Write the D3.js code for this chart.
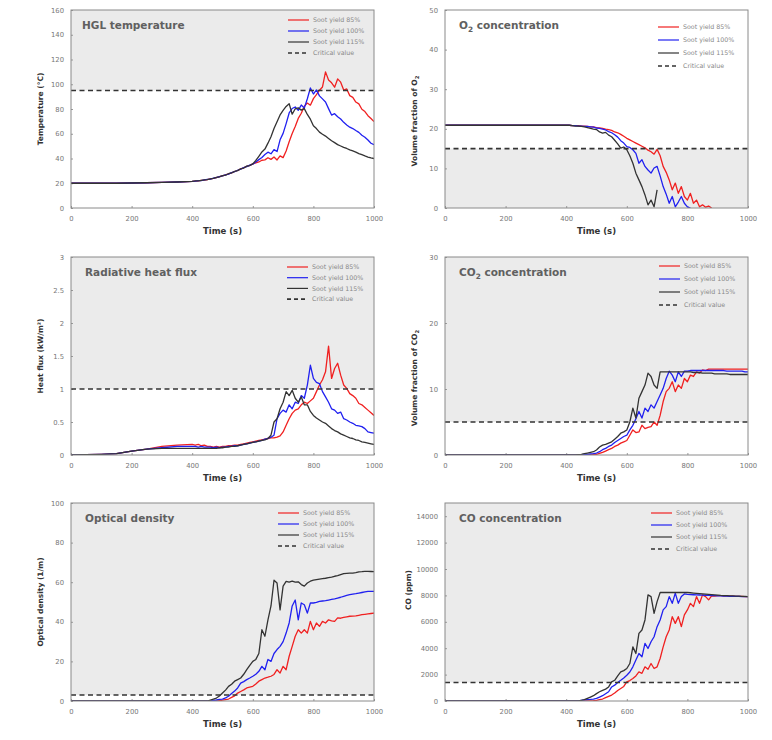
<!DOCTYPE html>
<html><head><meta charset="utf-8">
<script src="https://cdn.jsdelivr.net/npm/d3@7"></script>
<style>body{margin:0;background:#fff}svg{display:block}</style>
</head><body><svg id="c" width="772" height="740"></svg>
<script>
// ---------- DATA ----------
const time = [0,50,100,150,200,250,300,350,400,
 410,420,430,440,450,460,470,480,490,500,
 510,520,530,540,550,560,570,580,590,600,
 610,620,630,640,650,660,670,680,690,700,
 710,720,730,740,750,760,770,780,790,800,
 810,820,830,840,850,860,870,880,890,900,
 910,920,930,940,950,960,970,980,990,1000];
const seriesNames = ["Soot yield 85%","Soot yield 100%","Soot yield 115%"];
const criticalLabel = "Critical value";
const xTicks = [0,200,400,600,800,1000];
const N = null;

// HGL temperature (°C)
const hglRed = [20,20,20,20,20.2,20.4,20.7,21,21.5,
 21.8,22,22.3,22.6,23,23.5,24,24.6,25.3,26,
 26.7,27.6,28.4,29.5,30.3,31.6,32.4,33.7,34.4,35.6,
 36.4,37.2,38.6,38.9,40.6,39.3,41.2,38.8,42.1,40.7,
 46,53.5,60.2,65.8,72.4,76.6,82.3,84.8,83.1,88.4,
 91.6,95.2,97.8,110,103.5,101.2,97.6,104.3,101.7,95.3,
 96.2,90.8,89.4,85.6,84.1,79.8,77.9,74.6,72.3,69.8];
const hglBlue = [20,20,20,20,20.2,20.4,20.7,21,21.5,
 21.7,22.1,22.2,22.8,23.1,23.4,24.1,24.5,25.4,25.9,
 26.8,27.4,28.6,29.3,30.5,31.4,32.6,33.5,34.6,35.4,
 37.2,39.1,40.8,43.2,45.1,43.8,47.2,45.6,55.1,60.3,
 68.2,76.8,80.4,81.6,78.9,83.2,80.7,88.3,97,92.1,
 95.4,90.6,88.2,85.7,80.3,75.1,76.2,73.8,71.9,69.2,
 67.1,65.3,64.2,62.6,61.1,58.8,57.2,54.9,52.3,51.1];
const hglBlack = [20,20,20,20,20.2,20.4,20.7,21,21.5,
 21.9,22,22.4,22.7,22.9,23.6,24,24.7,25.2,26.1,
 26.6,27.7,28.3,29.6,30.2,31.7,32.3,33.8,34.3,35.7,
 38.4,41.8,45.3,47.6,52.4,57.6,64.3,69.7,75.2,78.8,
 82.1,84.3,75.8,80.2,80.9,79.1,80.3,75.6,71.8,66.4,
 64.2,61.3,59.6,58.1,56.2,54.3,52.8,51.2,50.1,49,
 48.1,47,46.1,45.2,44,43.1,42.1,41.2,40.5,40];

// O2 volume fraction (%)
const o2Red = [20.9,20.9,20.9,20.9,20.9,20.9,20.9,20.9,20.9,
 20.9,20.8,20.8,20.8,20.7,20.7,20.6,20.5,20.5,20.3,
 20.2,20.1,19.9,19.8,19.6,19.2,19,18.6,18.1,17.6,
 17.2,16.8,16.4,16,15.6,15.2,14.6,14.2,13.6,14.8,
 13.2,10.5,9,7.1,4.6,6.3,3.7,5.4,2.9,2,
 3.7,1.2,2,0.3,0.8,0.2,0.5,0,N,N,
 N,N,N,N,N,N,N,N,N,N];
const o2Blue = [20.9,20.9,20.9,20.9,20.9,20.9,20.9,20.9,20.9,
 20.9,20.8,20.8,20.7,20.7,20.6,20.6,20.5,20.4,20.2,
 20.1,19.9,19.7,19.3,19,18.5,17.9,17,16.4,15.5,
 15.3,14.7,13.8,11.3,12.2,10.5,9.6,8.8,10.1,10.5,
 8.1,5.4,3.5,1.2,2.9,0.3,1.5,2.9,1.2,0.3,
 0,N,N,N,N,N,N,N,N,N,
 N,N,N,N,N,N,N,N,N,N];
const o2Black = [20.9,20.9,20.9,20.9,20.9,20.9,20.9,20.9,20.9,
 20.9,20.8,20.7,20.7,20.6,20.5,20.3,20.1,19.9,19.8,
 19.2,18.9,19.1,18.4,18,17.1,16.2,15.1,15.4,14.7,
 13.2,11.3,8.8,7.1,5.4,3.3,0.8,2,0.3,4.6,
 N,N,N,N,N,N,N,N,N,N,
 N,N,N,N,N,N,N,N,N,N,
 N,N,N,N,N,N,N,N,N,N];

// Radiative heat flux (kW/m2)
const hfRed = [0,0.005,0.01,0.02,0.06,0.09,0.13,0.15,0.16,
 0.15,0.16,0.14,0.15,0.13,0.13,0.12,0.13,0.12,0.13,
 0.13,0.14,0.14,0.15,0.15,0.16,0.17,0.18,0.19,0.2,
 0.21,0.22,0.23,0.24,0.25,0.26,0.26,0.27,0.29,0.35,
 0.45,0.55,0.63,0.68,0.7,0.76,0.8,0.78,0.82,0.86,
 0.96,1.06,1.14,1.26,1.65,1.16,1.31,1.39,1.21,1.06,
 1.01,0.93,0.9,0.86,0.78,0.76,0.72,0.68,0.64,0.6];
const hfBlue = [0,0.005,0.01,0.02,0.06,0.09,0.11,0.13,0.13,
 0.13,0.12,0.13,0.12,0.12,0.12,0.11,0.12,0.11,0.12,
 0.12,0.13,0.13,0.14,0.14,0.15,0.16,0.17,0.18,0.19,
 0.2,0.21,0.22,0.24,0.25,0.27,0.3,0.55,0.63,0.68,
 0.65,0.76,0.7,0.8,0.78,0.9,0.86,1.06,1.36,1.16,
 1.1,1.08,0.96,0.88,0.8,0.7,0.68,0.63,0.65,0.55,
 0.53,0.5,0.48,0.45,0.44,0.43,0.4,0.35,0.34,0.33];
const hfBlack = [0,0.005,0.01,0.02,0.06,0.09,0.1,0.1,0.1,
 0.1,0.1,0.1,0.1,0.1,0.1,0.1,0.1,0.11,0.11,
 0.12,0.12,0.13,0.13,0.14,0.15,0.16,0.17,0.18,0.19,
 0.2,0.21,0.22,0.23,0.25,0.3,0.5,0.55,0.7,0.8,
 0.96,0.9,0.98,0.86,0.8,0.88,0.76,0.76,0.66,0.6,
 0.56,0.53,0.5,0.48,0.44,0.4,0.37,0.35,0.32,0.3,
 0.28,0.26,0.25,0.23,0.22,0.2,0.19,0.18,0.17,0.16];

// CO2 volume fraction (%)
const co2Red = [0,0,0,0,0,0,0,0,0,
 0,0,0,0,0,0,0,0.05,0.08,0.1,
 0.25,0.4,0.6,0.8,1,1.3,1.5,1.8,2,2.2,
 3,3.8,3.4,3.5,4.5,4,4.2,4.3,5,4.5,
 6,8.1,9.6,10.1,11.1,9.6,10.6,10.1,11.6,11.1,
 12.1,11.9,12.6,12.4,12.9,12.8,13,13,13,13,
 13,13,13,13,13,13,13,13,13,13];
const co2Blue = [0,0,0,0,0,0,0,0,0,
 0,0,0,0,0.05,0.1,0.1,0.15,0.2,0.3,
 0.5,0.8,1,1.3,1.5,1.9,2.2,2.5,2.8,3,
 3.8,4.5,5.5,6.6,5.6,7.1,6.6,7.6,7.1,8.1,
 9.1,10.1,11.6,12.7,12.1,11.1,12.6,11.9,12.7,12.7,
 12.8,12.8,12.8,12.8,12.8,12.8,12.8,12.8,12.8,12.8,
 12.8,12.8,12.7,12.7,12.7,12.7,12.7,12.7,12.6,12.6];
const co2Black = [0,0,0,0,0,0,0,0,0,
 0,0,0,0.05,0.1,0.2,0.3,0.4,0.5,0.75,
 1.2,1.5,1.6,1.8,2,2.4,2.8,3.3,3.5,3.8,
 5,7.1,5.6,8.6,9.6,10.6,12.4,11.9,10.6,10.1,
 12.6,12.6,12.6,12.6,12.6,12.6,12.6,12.6,12.6,12.6,
 12.6,12.5,12.5,12.5,12.4,12.4,12.4,12.4,12.3,12.3,
 12.3,12.3,12.3,12.2,12.2,12.2,12.2,12.2,12.2,12.2];

// Optical density (1/m)
const odRed = [0,0,0,0,0,0,0,0,0,
 0,0,0,0,0,0,0,0,0.2,0.4,
 0.7,1,1.8,2.6,4,4.8,5.6,6.6,7,7.4,
 8.6,10,10.8,11.6,12,12.5,13.4,15.8,14.1,17.5,
 15.8,22.6,27.6,32.7,36,34.3,36,34.3,40.2,36,
 39.4,37.7,40.2,39.4,41,40.5,40.2,42,41.8,42.2,
 42.5,42.8,42.9,43,43.3,43.6,43.8,44,44.2,44.4];
const odBlue = [0,0,0,0,0,0,0,0,0,
 0,0,0,0,0,0,0.3,0.5,0.8,1,
 1.6,2.4,3.8,5,6.6,9,9.8,10.8,11.6,12.5,
 13.5,15,17.5,15.8,21,20,24,26,27.6,30,
 34.3,39.4,48,51,41,49.5,48.6,44.4,49.5,49.5,
 49.8,50.3,50.5,50.7,51,51.3,51.6,52,52.4,52.9,
 53.3,53.7,54,54.2,54.5,54.8,55.1,55.4,55.4,55.4];
const odBlack = [0,0,0,0,0,0,0,0,0,
 0,0,0,0,0,0.5,1,1.5,2.5,4,
 5.5,7.4,8.5,10,10.8,11.6,13.5,15.8,18,20,
 21,24,36,32.7,41,48,61,59.6,46,58,
 60.4,60,60.5,60,60.2,58.8,58,59.6,60.5,61,
 61.3,61.6,61.8,62,62.3,62.6,63,63.3,63.8,64.3,
 64.5,64.6,64.6,64.8,65.2,65.3,65.5,65.5,65.4,65.3];

// CO concentration (ppm)
const coRed = [0,0,0,0,0,0,0,0,0,
 0,0,0,0,0,0,0,0,20,50,
 100,150,250,350,450,600,800,950,1100,1445,
 1550,1700,1900,2200,2100,2590,2400,2840,2460,2590,
 3220,4100,4870,5380,6390,5880,6390,5630,6520,6900,
 7400,7150,7910,7400,8040,7910,7660,7960,7950,7990,
 7980,7970,7960,7950,7940,7930,7920,7920,7910,7910];
const coBlue = [0,0,0,0,0,0,0,0,0,
 0,0,0,0,50,80,100,120,150,200,
 300,400,550,700,1065,1200,1400,1570,1750,1950,
 2200,2590,3100,3600,3350,4360,3980,4490,4870,5630,
 6140,6900,7150,7910,7400,8170,7400,7910,8110,8080,
 8060,8050,8040,8030,8020,8010,8000,7990,7980,7970,
 7960,7950,7940,7930,7930,7920,7920,7910,7910,7900];
const coBlack = [0,0,0,0,0,0,0,0,0,
 0,0,0,0,50,100,200,300,400,560,
 700,810,900,1065,1445,1570,1900,2200,2300,2460,
 2840,4100,3600,5120,5380,6140,8040,7910,6640,7530,
 8220,8220,8220,8220,8220,8220,8220,8220,8220,8220,
 8200,8180,8160,8140,8120,8100,8080,8060,8040,8020,
 8000,7990,7980,7970,7960,7950,7940,7930,7920,7910];

const criticalValues = [95, 15, 1, 5, 3, 1400];
const yTicksHGL = [0,20,40,60,80,100,120,140,160];
const yTicksO2 = [0,10,20,30,40,50];
const yTicksHF = [0,0.5,1,1.5,2,2.5,3];
const yTicksCO2 = [0,10,20,30];
const yTicksOD = [0,20,40,60,80,100];
const yTicksCO = [0,2000,4000,6000,8000,10000,12000,14000];

// ---------- LAYOUT ----------
const colors = ["#f02020","#2020f0","#333333"];
const SHADE = "#ebebeb";
const svg = d3.select("#c");
const FONT = "DejaVu Sans, Verdana, sans-serif";

const panels = [
 {title:[["HGL temperature"]], ylab:[["Temperature (°C)"]], ymax:160, ticks:yTicksHGL, crit:criticalValues[0], above:true,
  series:[hglRed,hglBlue,hglBlack], f:[71,374,10,208], tdx:11, ylx:28, ylc:0, lg:[217,10,11]},
 {title:[["O"],["2","sub"],[" concentration"]], ylab:[["Volume fraction of O"],["2","sub"]], ymax:50, ticks:yTicksO2, crit:criticalValues[1], above:false,
  series:[o2Red,o2Blue,o2Black], f:[445,748,10,208], tdx:14, ylx:28, ylc:12, lg:[213,17,13]},
 {title:[["Radiative heat flux"]], ylab:[["Heat flux (kW/m²)"]], ymax:3, ticks:yTicksHF, crit:criticalValues[2], above:true,
  series:[hfRed,hfBlue,hfBlack], f:[71,374,257,455], tdx:14, ylx:28, ylc:0, lg:[216,10,10.7]},
 {title:[["CO"],["2","sub"],[" concentration"]], ylab:[["Volume fraction of CO"],["2","sub"]], ymax:30, ticks:yTicksCO2, crit:criticalValues[3], above:true,
  series:[co2Red,co2Blue,co2Black], f:[445,748,257,455], tdx:14, ylx:28, ylc:22, lg:[214,9,13]},
 {title:[["Optical density"]], ylab:[["Optical density (1/m)"]], ymax:100, ticks:yTicksOD, crit:criticalValues[4], above:true,
  series:[odRed,odBlue,odBlack], f:[71,374,503,701], tdx:14, ylx:28, ylc:0, lg:[207,10,11]},
 {title:[["CO concentration"]], ylab:[["CO (ppm)"]], ymax:15000, ticks:yTicksCO, crit:criticalValues[5], above:true,
  series:[coRed,coBlue,coBlack], f:[445,748,503,701], tdx:14, ylx:34, ylc:-12, lg:[206,10,12]}
];

function richText(sel, parts, size){
  parts.forEach(p=>{
    const t = sel.append("tspan").text(p[0]);
    if(p[1]==="sub"){ t.attr("font-size", size*0.7).attr("dy", size*0.25); }
    else if(sel.selectAll("tspan").size()>1){ t.attr("dy", -size*0.25); }
  });
}

panels.forEach(p=>{
  const [x0,x1,y0,y1] = p.f;
  const x = d3.scaleLinear().domain([0,1000]).range([x0,x1]);
  const y = d3.scaleLinear().domain([0,p.ymax]).range([y1,y0]);
  const g = svg.append("g");
  g.append("rect").attr("x",x0).attr("y",y0).attr("width",x1-x0).attr("height",y1-y0).attr("fill","#fff");
  const yc = y(p.crit);
  if(p.above) g.append("rect").attr("x",x0).attr("y",y0).attr("width",x1-x0).attr("height",yc-y0).attr("fill",SHADE);
  else g.append("rect").attr("x",x0).attr("y",yc).attr("width",x1-x0).attr("height",y1-yc).attr("fill",SHADE);

  const ax = g.append("g").attr("transform",`translate(0,${y1})`)
    .call(d3.axisBottom(x).tickValues(xTicks).tickSize(-2).tickPadding(8).tickFormat(d3.format("d")));
  const ay = g.append("g").attr("transform",`translate(${x0},0)`)
    .call(d3.axisLeft(y).tickValues(p.ticks).tickSize(-2).tickPadding(7).tickFormat(d=>String(d)));
  [ax,ay].forEach(a=>{
    a.select(".domain").remove();
    a.selectAll(".tick line").attr("stroke","#999");
    a.selectAll("text").attr("font-family",FONT).attr("font-size",6.8).attr("fill","#777");
  });

  const cid = "clip"+x0+"_"+y0;
  svg.append("clipPath").attr("id",cid).append("rect").attr("x",x0).attr("y",y0-1).attr("width",x1-x0).attr("height",y1-y0+1);

  const line = d3.line().defined(d=>d[1]!==null).x(d=>x(d[0])).y(d=>y(d[1]));
  p.series.forEach((s,i)=>{
    g.append("path").datum(time.map((t,k)=>[t,s[k]]))
      .attr("d",line).attr("fill","none").attr("stroke",colors[i]).attr("stroke-width",1.3)
      .attr("stroke-linejoin","round").attr("clip-path",`url(#${cid})`);
  });
  g.append("line").attr("x1",x0).attr("x2",x1).attr("y1",yc).attr("y2",yc)
    .attr("stroke","#333").attr("stroke-width",1.6).attr("stroke-dasharray","5,3.5");

  g.append("rect").attr("x",x0).attr("y",y0).attr("width",x1-x0).attr("height",y1-y0)
    .attr("fill","none").attr("stroke","#8a8a8a").attr("stroke-width",1);

  const tt = g.append("text").attr("x",x0+p.tdx).attr("y",y0+19).attr("font-family",FONT)
    .attr("font-weight","bold").attr("font-size",10.5).attr("fill","#606060");
  richText(tt,p.title,10.5);

  g.append("text").attr("x",(x0+x1)/2).attr("y",y1+26).attr("text-anchor","middle")
    .attr("font-family",FONT).attr("font-weight","bold").attr("font-size",8.5).attr("fill","#333").text("Time (s)");
  const yl = g.append("text").attr("transform",`translate(${x0-p.ylx},${(y0+y1)/2+p.ylc}) rotate(-90)`)
    .attr("text-anchor","middle").attr("font-family",FONT).attr("font-weight","bold").attr("font-size",7.5).attr("fill","#333");
  richText(yl,p.ylab,7.5);

  const [lx,ly,ls] = p.lg;
  const labels = seriesNames.concat([criticalLabel]);
  labels.forEach((lab,i)=>{
    const yy = y0+ly+i*ls;
    const l = g.append("line").attr("x1",x0+lx).attr("x2",x0+lx+21).attr("y1",yy).attr("y2",yy);
    if(i<3) l.attr("stroke",colors[i]).attr("stroke-width",1.2);
    else l.attr("stroke","#333").attr("stroke-width",1.6).attr("stroke-dasharray","4,3");
    g.append("text").attr("x",x0+lx+25).attr("y",yy+2.2).attr("font-family",FONT)
      .attr("font-size",6.3).attr("fill","#888").text(lab);
  });
});
</script></body></html>
